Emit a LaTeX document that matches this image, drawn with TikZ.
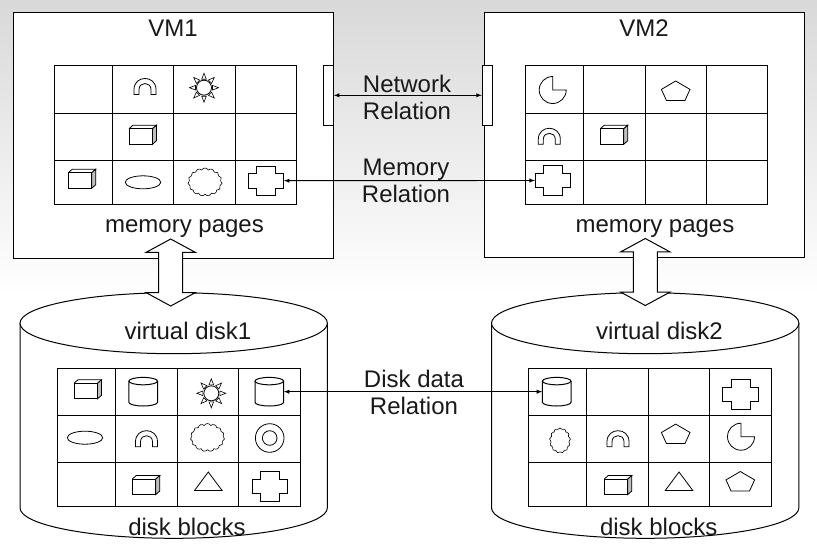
\documentclass[tikz,border=0pt]{standalone}
\usepackage{fontspec}
\setmainfont{Liberation Sans}
\usetikzlibrary{shapes.geometric, shapes.symbols, shapes.arrows}
\definecolor{bgtop}{gray}{0.85}
\tikzset{
        x=1pt, y=-1pt,
        >=latex, % small solid heads on the relations
        frame/.style={draw=black, fill=white, line width=1pt},
        gridline/.style={draw=black, line width=1pt},
        iconline/.style={draw=black, line width=0.8pt},
        caption/.style={font=\fontsize{24}{27}\selectfont, inner sep=0pt, anchor=base, align=center, text=black!90},
        port/.style={frame, minimum width=10pt, minimum height=60pt, inner sep=0pt},
        bigarrow/.style={frame, double arrow, rotate=90, minimum height=67pt, inner sep=11.5pt, double arrow head extend=12.5pt, double arrow tip angle=123},
        oval/.style={iconline, ellipse, minimum width=35.4pt, minimum height=13pt, inner sep=0pt},
        puff/.style={iconline, cloud, cloud puffs=15, cloud puff arc=130, minimum width=34pt, minimum height=28pt, inner sep=0pt, line width=0.6pt},
        % half width, end radius, half height
        pics/tank/.style n args={3}{code={
            \node[minimum width=2*#1 pt, minimum height=2*#3 pt, inner sep=0pt] (-box) {};
            \path[frame] (-#1,-#3+#2) -- (-#1,#3-#2) arc[start angle=180, end angle=360, x radius=#1pt, y radius=#2pt] -- (#1,-#3+#2);
            \path[frame] (0,-#3+#2) ellipse[x radius=#1pt, y radius=#2pt];
        }},
        blockicon/.pic={
            \draw[iconline] (-14,-6.5) rectangle (9.5,9);
            \draw[iconline] (-14,-6.5) -- (-10,-10) -- (13.5,-10) -- (9.5,-6.5);
            \draw[iconline, fill=black!25] (9.5,-6.5) -- (13.5,-10) -- (13.5,5.5) -- (9.5,9) -- cycle;
        },
        archicon/.pic={
            \draw[iconline] (-11,8) -- (-11,3) .. controls (-11,-11.7) and (11,-11.7) .. (11,3) -- (11,8) -- (6,8) -- (6,3) .. controls (6,-5) and (-6,-5) .. (-6,3) -- (-6,8) -- cycle;
        },
        sunicon/.pic={
            \draw[iconline] (0,0) circle[radius=7.5pt];
            \foreach \a in {0,45,...,315}
                \draw[iconline, line width=0.6pt, rotate=\a] (8.5,-2.3) -- (14.5,0) -- (8.5,2.3) -- cycle;
        },
        ringicon/.pic={
            \draw[iconline] (0,0) circle[radius=14.3pt] (0,0) circle[radius=7.3pt];
        },
        plusicon/.pic={
            \node[minimum width=35.4pt, minimum height=29.4pt, inner sep=0pt] (-box) {};
            \draw[iconline] (-17.7,-7.3) -- (-9.6,-7.3) -- (-9.6,-14.7) -- (9.6,-14.7) -- (9.6,-7.3) -- (17.7,-7.3) -- (17.7,7.3) -- (9.6,7.3) -- (9.6,14.7) -- (-9.6,14.7) -- (-9.6,7.3) -- (-17.7,7.3) -- cycle;
        },
        pacicon/.pic={
            \draw[iconline] (0,0) -- (0,-13.5) .. controls (-7.5,-13.5) and (-13.5,-7.5) .. (-13.5,0) .. controls (-13.5,7.5) and (-7.5,13.5) .. (0,13.5) .. controls (7.5,13.5) and (13.5,7.5) .. (13.5,0) -- cycle;
        },
        penticon/.pic={
            \draw[iconline] (0,-9.7) -- (14.3,-1.3) -- (9.3,9.7) -- (-9.3,9.7) -- (-14.3,-1.3) -- cycle;
        },
        triicon/.pic={
            \draw[iconline] (0,-9.2) -- (13.7,9.2) -- (-13.7,9.2) -- cycle;
        }
        }
\begin{document}
\begin{tikzpicture}
        \useasboundingbox (0,0) rectangle (817,552);
        \fill[white] (0,0) rectangle (817,552);
        \shade[top color=bgtop, bottom color=white] (0,0) rectangle (817,295);

        % machines
        \node[frame, minimum width=320pt, minimum height=245.6pt, inner sep=0pt] (vm1) at (173.3,135.5) {};
        \node[frame, minimum width=320pt, minimum height=244.4pt, inner sep=0pt] (vm2) at (644.3,134.9) {};
        \node[port] (port1) at (328.3,95.3) {};
        \node[port] (port2) at (487.3,95.3) {};

        % disks
        \pic (disk1) at (173.7,415.5) {tank={153.7}{30.5}{122.8}};
        \pic (disk2) at (645.2,415.5) {tank={153.7}{30.5}{122.8}};
        \node[bigarrow] (link1) at (170.7,272.5) {};
        \node[bigarrow] (link2) at (645.3,272) {};

        % page and block tables
        \draw[gridline] (54.3,65.3) rectangle (296.3,204.3)
            (54.3,113.3) -- (296.3,113.3) (54.3,160.3) -- (296.3,160.3)
            (112.3,65.3) -- (112.3,204.3) (173.3,65.3) -- (173.3,204.3) (235.3,65.3) -- (235.3,204.3);
        \draw[gridline] (525.3,65.3) rectangle (767.3,204.3)
            (525.3,113.3) -- (767.3,113.3) (525.3,160.3) -- (767.3,160.3)
            (583.3,65.3) -- (583.3,204.3) (645.3,65.3) -- (645.3,204.3) (706.3,65.3) -- (706.3,204.3);
        \draw[gridline] (57.3,368.3) rectangle (300.3,506.3)
            (57.3,415.3) -- (300.3,415.3) (57.3,462.7) -- (300.3,462.7)
            (115.3,368.3) -- (115.3,506.3) (177.3,368.3) -- (177.3,506.3) (238.3,368.3) -- (238.3,506.3);
        \draw[gridline] (528.3,368.3) rectangle (771.3,506.3)
            (528.3,415.3) -- (771.3,415.3) (528.3,462.7) -- (771.3,462.7)
            (586.7,368.3) -- (586.7,506.3) (648.3,368.3) -- (648.3,506.3) (709.3,368.3) -- (709.3,506.3);

        % icons of VM1
        \pic at (145,86.5) {archicon};
        \pic at (204,87.7) {sunicon};
        \pic at (143,135.2) {blockicon};
        \pic at (82.3,179.2) {blockicon};
        \node[oval] (m1oval) at (143,182.3) {};
        \node[puff] (m1puff) at (205,182) {};
        \pic (m1plus) at (266,180.7) {plusicon};

        % icons of VM2
        \pic at (552.7,90) {pacicon};
        \pic at (675.7,90.7) {penticon};
        \pic at (549.3,136.3) {archicon};
        \pic at (614.3,135.2) {blockicon};
        \pic (m2plus) at (552.8,180.5) {plusicon};

        % icons of disk1
        \pic at (88,389.8) {blockicon};
        \pic (d1drum) at (143.2,391.7) {tank={14.3}{3.7}{14.3}};
        \pic at (211.3,393.3) {sunicon};
        \pic (d1data) at (269.3,391.7) {tank={14.3}{3.7}{14.3}};
        \node[oval] (d1oval) at (85,437.7) {};
        \pic at (146.5,438.7) {archicon};
        \node[puff] (d1puff) at (207.5,437.5) {};
        \pic at (269.7,438) {ringicon};
        \pic at (146.3,485.5) {blockicon};
        \pic at (208.3,481.2) {triicon};
        \pic at (269.7,486.2) {plusicon};

        % icons of disk2
        \pic (d2data) at (556.7,391.7) {tank={14.3}{3.7}{14.3}};
        \pic at (740.5,394.5) {plusicon};
        \node[puff, cloud puffs=13, minimum width=21pt, minimum height=25pt] (d2puff) at (560,440.5) {};
        \pic at (618,438.7) {archicon};
        \pic at (675.7,433.8) {penticon};
        \pic at (741,436.7) {pacicon};
        \pic at (618.3,485.5) {blockicon};
        \pic at (679,481.2) {triicon};
        \pic at (740.3,481.2) {penticon};

        % relations
        \draw[<->, line width=0.9pt] (port1) -- (port2);
        \draw[<->, line width=0.9pt] (m1plus-box.east) -- (m2plus-box.west);
        \draw[<->, line width=0.9pt] (d1data-box.east) -- (d2data-box.west);

        % texts
        \node[caption] (vm1name) at (173,36) {VM1};
        \node[caption] (vm2name) at (644,36) {VM2};
        \node[caption] (pages1) at (184.5,232) {memory pages};
        \node[caption] (pages2) at (655,232) {memory pages};
        \node[caption] (disk1name) at (188,339) {virtual disk1};
        \node[caption] (disk2name) at (659.5,339) {virtual disk2};
        \node[caption] (blocks1) at (187,535) {disk blocks};
        \node[caption] (blocks2) at (658.7,535) {disk blocks};
        \node[caption] (netrel) at (407,119) {Network\\Relation};
        \node[caption] (memrel) at (406,202) {Memory\\Relation};
        \node[caption] (diskrel) at (414,414) {Disk data\\Relation};
\end{tikzpicture}
\end{document}
